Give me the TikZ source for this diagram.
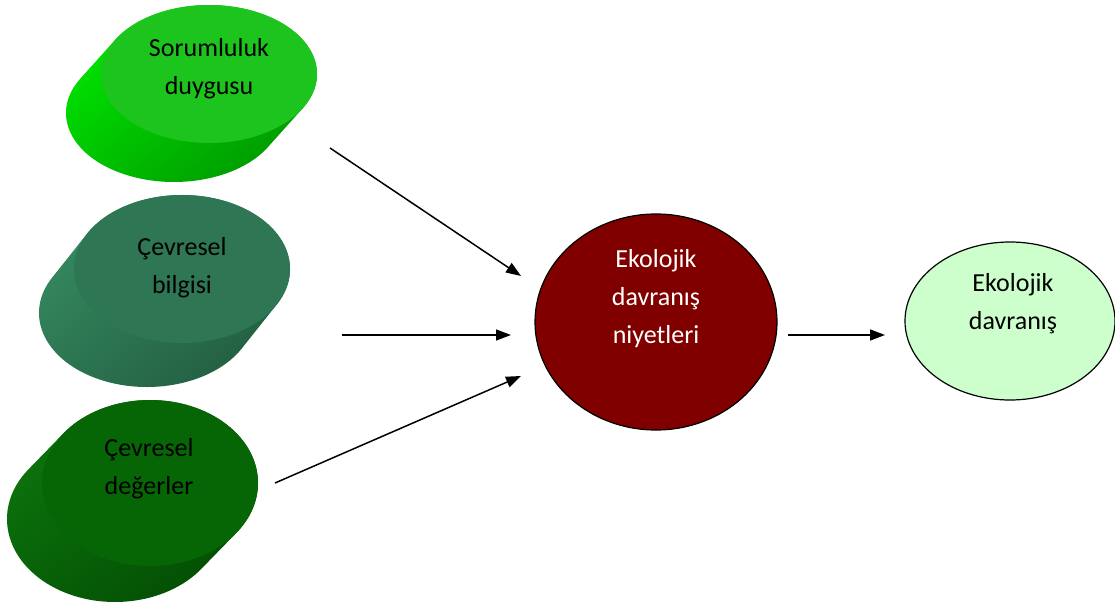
\documentclass[tikz,border=0pt]{standalone}
\usepackage{fontspec}
\setmainfont{Carlito}
\usetikzlibrary{arrows.meta,shapes.geometric}

\definecolor{grAtop}{RGB}{30,196,30}
\definecolor{grAlt}{RGB}{0,232,0}
\definecolor{grAdk}{RGB}{0,150,0}
\definecolor{grBtop}{RGB}{46,118,84}
\definecolor{grBlt}{RGB}{54,140,98}
\definecolor{grBdk}{RGB}{34,92,64}
\definecolor{grCtop}{RGB}{6,102,6}
\definecolor{grClt}{RGB}{12,118,12}
\definecolor{grCdk}{RGB}{3,76,3}
\definecolor{intent}{RGB}{128,0,0}
\definecolor{paleg}{RGB}{204,255,204}

% tilted elliptic cylinder: top centre (#1,#2), radii #3,#4, shift of the base (#5,#6),
% top colour #7, side colours #8 (light) and #9 (dark)
\newcommand\tiltcyl[9]{%
  \pgfmathsetmacro\tAng{atan(-(#4)*(#5)/((#3)*(#6)))}%
  \shade[top color=#8, bottom color=#9, shading angle=40]
    ({#1+(#5)},{#2+(#6)}) ++(\tAng+180:#3 and #4)
    arc[start angle=\tAng+180, end angle=\tAng+360, x radius=#3, y radius=#4]
    -- ++({-1*(#5)},{-1*(#6)})
    arc[start angle=\tAng, end angle=\tAng+180, x radius=#3, y radius=#4]
    -- cycle;
  \fill[#7] (#1,#2) ellipse[x radius=#3, y radius=#4];
}

\begin{document}
\begin{tikzpicture}[x=1pt,y=1pt,
  lbl/.style={font=\fontsize{26}{38}\selectfont, align=center, inner sep=0pt},
  link/.style={line width=1.5pt, -{Triangle[length=15pt,width=11pt]}}]
\useasboundingbox (0,0) rectangle (1115,606);
\fill[white] (0,0) rectangle (1115,606);

% three tilted cylinders on the left
\tiltcyl{209}{532}{108}{69}{-35}{-39}{grAtop}{grAlt}{grAdk}
\tiltcyl{182}{337}{108}{74}{-35}{-44}{grBtop}{grBlt}{grBdk}
\tiltcyl{150}{123}{108}{83}{-35}{-36}{grCtop}{grClt}{grCdk}

\node[lbl] (s1) at (209,537) {Sorumluluk\\duygusu};
\node[lbl] (s2) at (182,338) {Çevresel\\bilgisi};
\node[lbl] (s3) at (149,137) {Çevresel\\değerler};

% intentions and behaviour
\node[ellipse, draw=black, line width=1.2pt, fill=intent,
      minimum width=242pt, minimum height=216pt] (ni) at (656,284) {};
\node[lbl, text=white] (nit) at (656,307) {Ekolojik\\davranış\\niyetleri};

\node[ellipse, draw=black, line width=1.2pt, fill=paleg,
      minimum width=210pt, minimum height=158pt] (dv) at (1010,285) {};
\node[lbl] (dvt) at (1013,302) {Ekolojik\\davranış};

% arrows
\coordinate (a1s) at (330,458); \coordinate (a1e) at (521,330);
\coordinate (a2s) at (342,271); \coordinate (a2e) at (511,271);
\coordinate (a3s) at (275,123); \coordinate (a3e) at (521,230);
\coordinate (a4s) at (788,271); \coordinate (a4e) at (885,271);
\draw[link] (a1s) -- (a1e);
\draw[link] (a2s) -- (a2e);
\draw[link] (a3s) -- (a3e);
\draw[link] (a4s) -- (a4e);
\end{tikzpicture}
\end{document}
